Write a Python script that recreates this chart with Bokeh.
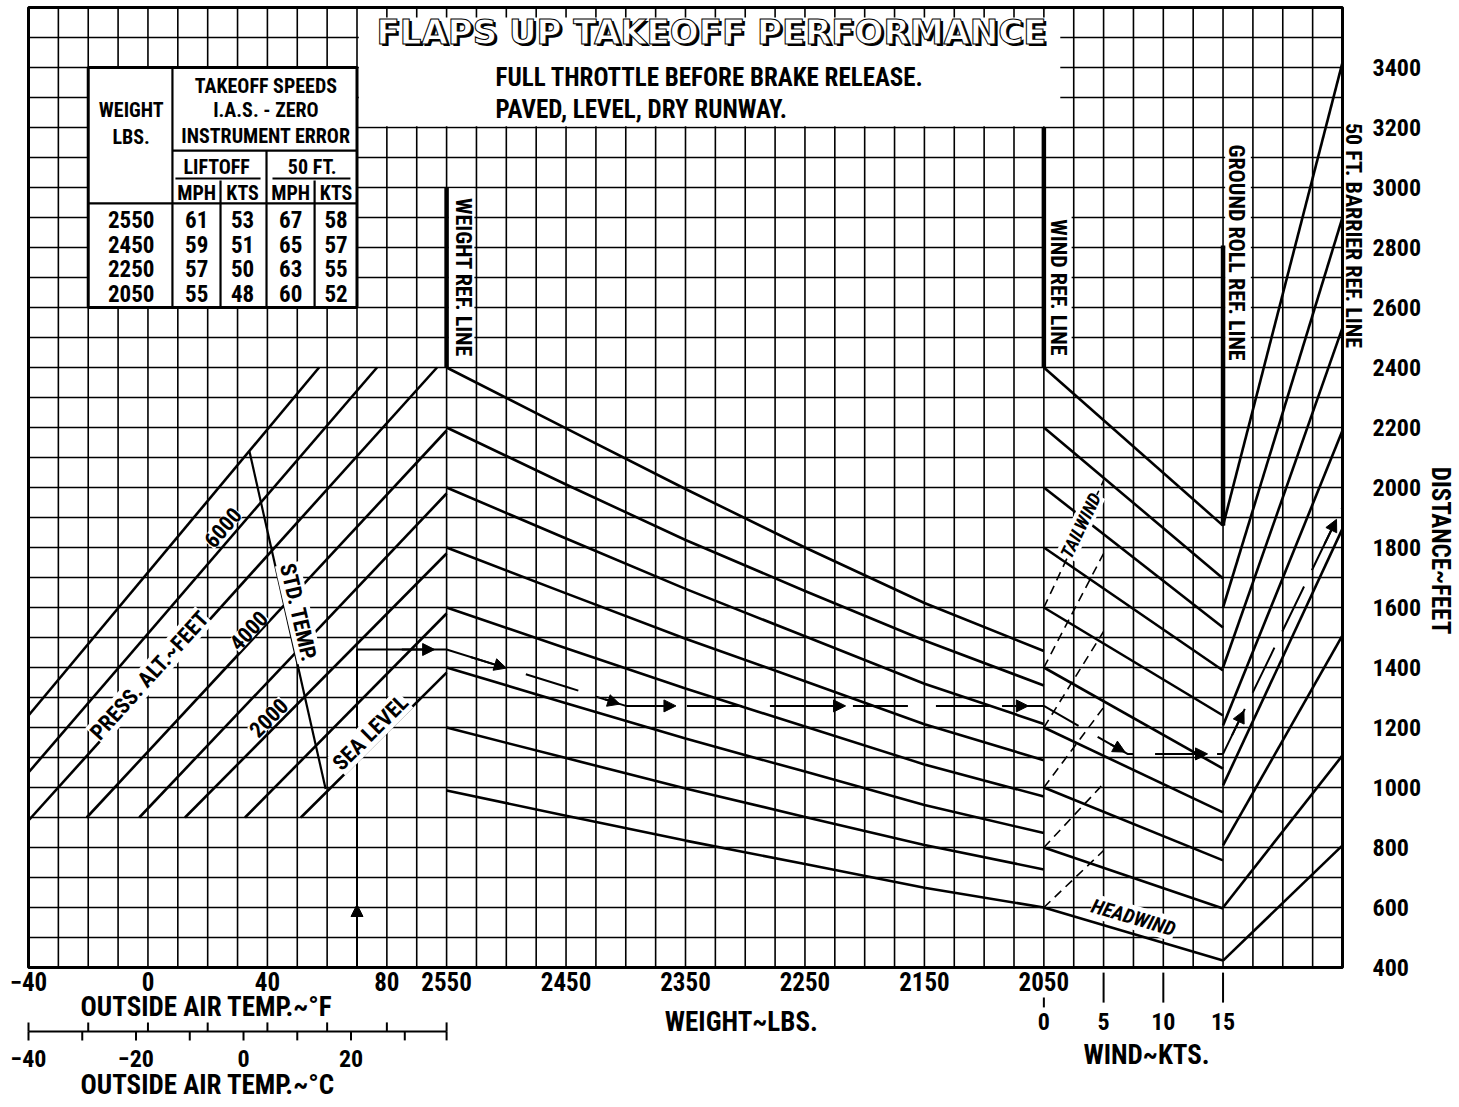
import numpy as np
from bokeh.plotting import figure
from bokeh.models import LinearAxis, FixedTicker, Arrow, NormalHead
from bokeh.core.properties import value
from bokeh.embed import file_html
from bokeh.resources import INLINE

FONT = "'Roboto Condensed', 'Noto Sans Condensed', 'Liberation Sans Narrow', 'Liberation Sans', sans-serif"
TFONT = "'DejaVu Sans', Verdana, sans-serif"

# ---------------- values ----------------
temp_f_ticks = [-40, 0, 40, 80]
temp_f_minor = [-40, -20, 0, 20, 40, 60, 80, 100]
temp_c_ticks = [-40, -30, -20, -10, 0, 10, 20, 30]
temp_c_labeled = [-40, -20, 0, 20]
weight_ticks = [2550, 2450, 2350, 2250, 2150, 2050]
wind_ticks = [0, 5, 10, 15]
distance_ticks = list(range(400, 3401, 200))
grid_u = list(range(-40, 401, 10))          # one grid column = 10 deg F
grid_ft = list(range(400, 3601, 100))       # one grid row = 100 ft

# pressure altitude lines (deg F, ft) start -> end
pa_names = ["SEA LEVEL", "1000", "2000", "3000", "4000", "5000", "6000", "7000"]
pa_t0 = [51.2, 32.5, 12.4, -2.9, -20.5, -40.0, -40.0, -40.0]
pa_d0 = [900, 900, 900, 900, 900, 890, 1050, 1240]
pa_t1 = [100.0, 100.0, 100.0, 100.0, 100.0, 96.8, 76.7, 57.3]
pa_d1 = [1383, 1580, 1780, 1980, 2190, 2400, 2400, 2400]

std_temp_t = [34.0, 59.5]
std_temp_d = [2120, 995]

# weight guide lines: distance at each weight
guide_weights = [2550, 2450, 2350, 2250, 2150, 2050]
weight_guides = [
    [2400, 2197, 1995, 1800, 1615, 1455],
    [2200, 2010, 1825, 1655, 1490, 1340],
    [2000, 1830, 1662, 1504, 1346, 1212],
    [1800, 1647, 1496, 1354, 1211, 1091],
    [1600, 1464, 1330, 1203, 1077, 970],
    [1400, 1281, 1163, 1053, 942, 848],
    [1200, 1098, 997, 902, 808, 727],
    [990, 906, 823, 745, 666, 600],
]

# wind: headwind guides 0 kt -> 15 kt, tailwind guides 0 kt -> 5 kt
head_d0 = [2400, 2200, 2000, 1800, 1600, 1400, 1200, 1000, 800, 600]
head_d15 = [1873, 1697, 1533, 1390, 1240, 1063, 917, 757, 597, 423]
tail_d0 = [600, 800, 1000, 1200, 1400, 1600]
tail_d5 = [790, 1013, 1267, 1520, 1780, 2023]

# ground roll -> 50 ft barrier guides
barrier_g = [423, 600, 807, 1007, 1207, 1400, 1600, 1873]
barrier_b = [807, 1107, 1507, 1863, 2190, 2533, 2900, 3417]

# worked example
ex_temp = 70
ex_pa_dist = 1460
ex_w_path_w = [2550, 2500, 2450, 2400]
ex_w_path_d = [1460, 1398, 1336, 1272]
ex_wind = 7
ex_ground = 1112
ex_barrier = 1935

# takeoff speed table
table_weights = [2550, 2450, 2250, 2050]
liftoff_mph = [61, 59, 57, 55]
liftoff_kts = [53, 51, 50, 48]
ft50_mph = [67, 65, 63, 60]
ft50_kts = [58, 57, 55, 52]


# ---------------- shared horizontal scale ----------------
def uw(w):
    return 100 + (2550 - np.asarray(w, float)) * 0.4


def uk(k):
    return 300 + np.asarray(k, float) * 4.0


U_LEFT, U_RIGHT, D_BOT, D_TOP = -40, 400, 400, 3600
PX_U = 1314 / 440.0      # pixels per horizontal unit
PX_FT = 0.3              # pixels per foot
FW, FH = 1364, 1100
x0r = U_LEFT - 28 / PX_U
y1r = D_TOP + 7 / PX_FT

p = figure(frame_width=FW, frame_height=FH,
           x_range=(x0r, x0r + FW / PX_U), y_range=(y1r - FH / PX_FT, y1r),
           x_axis_location=None, y_axis_location=None, output_backend="svg",
           toolbar_location=None, min_border_left=0, min_border_top=0,
           min_border_right=0, min_border_bottom=0, outline_line_color=None)
p.xgrid.visible = False
p.ygrid.visible = False

# grid
p.segment(x0=grid_u, y0=[D_BOT] * len(grid_u), x1=grid_u, y1=[D_TOP] * len(grid_u),
          line_color="black", line_width=1.6)
p.segment(x0=[U_LEFT] * len(grid_ft), y0=grid_ft, x1=[U_RIGHT] * len(grid_ft), y1=grid_ft,
          line_color="black", line_width=1.6)

# white panels that hide the grid
p.quad(left=[70.6, 100.7, 300.7, 360.7], right=[305.5, 109.3, 309.3, 369.3],
       bottom=[3204, 2403, 2412, 2425], top=[3567, 2997, 2930, 3160],
       fill_color="white", line_color=None)

# reference lines (thick)
p.segment(x0=[100, 300, 360], y0=[2400, 2400, 1873], x1=[100, 300, 360], y1=[3000, 3200, 2807],
          line_color="black", line_width=4.5)

LW = 2.6
p.segment(x0=pa_t0, y0=pa_d0, x1=pa_t1, y1=pa_d1, line_color="black", line_width=LW)
p.line(std_temp_t, std_temp_d, line_color="black", line_width=2.2)
p.multi_line(xs=[list(uw(guide_weights)) for _ in weight_guides], ys=weight_guides,
             line_color="black", line_width=LW)
p.segment(x0=[uk(0)] * len(head_d0), y0=head_d0, x1=[uk(15)] * len(head_d0), y1=head_d15,
          line_color="black", line_width=LW)
p.segment(x0=[uk(0)] * len(tail_d0), y0=tail_d0, x1=[uk(5)] * len(tail_d0), y1=tail_d5,
          line_color="black", line_width=1.6, line_dash="9 6")
p.segment(x0=[uk(15)] * len(barrier_g), y0=barrier_g, x1=[U_RIGHT] * len(barrier_g), y1=barrier_b,
          line_color="black", line_width=LW)

# ---------------- worked example ----------------
p.line([ex_temp, ex_temp, 100], [D_BOT, ex_pa_dist, ex_pa_dist], line_color="black", line_width=2)
wx = list(uw(ex_w_path_w)) + [uw(2050)]
wy = ex_w_path_d + [ex_w_path_d[-1]]
p.line(wx, wy, line_color="black", line_width=2, line_dash="55 28")
p.line([uk(0), uk(ex_wind), uk(15)], [ex_w_path_d[-1], ex_ground, ex_ground],
       line_color="black", line_width=2, line_dash="40 22")
p.line([uk(15), U_RIGHT], [ex_ground, ex_barrier], line_color="black", line_width=2,
       line_dash="50 18")


def arrow(xa, ya, xb, yb):
    p.add_layout(Arrow(end=NormalHead(size=12, fill_color="black", line_color="black"),
                       x_start=xa, y_start=ya, x_end=xb, y_end=yb,
                       line_color="black", line_width=2))


arrow(ex_temp, 500, ex_temp, 610)
arrow(85, ex_pa_dist, 96, ex_pa_dist)
arrow(uw(2530), 1435, uw(2500), 1398)
arrow(uw(2425), 1303, uw(2405), 1278)
arrow(uw(2380), 1272, uw(2358), 1272)
arrow(uw(2240), 1272, uw(2216), 1272)
arrow(uw(2085), 1272, uw(2063), 1272)
arrow(uk(5.6), 1144, uk(6.8), 1118)
arrow(uk(12), ex_ground, uk(13.7), ex_ground)
sl = (ex_barrier - ex_ground) / (U_RIGHT - uk(15))
arrow(363, ex_ground + 3 * sl, 367, ex_ground + 7 * sl)
arrow(394, ex_ground + 34 * sl, 398, ex_ground + 38 * sl)


# ---------------- texts ----------------
def txt(x, y, t, size, angle=0.0, align="center", font=FONT, style="bold", bg=None):
    kw = {}
    if bg:
        kw["background_fill_color"] = bg
    p.text(x=x, y=y, text=t, angle=angle, text_align=align, text_baseline="middle",
           text_font=value(font), text_font_style=style, text_font_size=size,
           text_color="black", **kw)


txt([25.0, 0.5, 33.7, 40.4, 74.5], [1867, 1373, 1523, 1233, 1183],
    ["6000", "PRESS. ALT.~FEET", "4000", "2000", "SEA LEVEL"], "22px",
    angle=list(np.radians([49.4, 47.9, 47.1, 45.1, 44.9])), bg="white")
txt([50.4], [1583], ["STD. TEMP."], "22px", angle=np.radians(-77), bg="white")
txt([330], [567], ["HEADWIND"], "20px", angle=np.radians(-16.4), style="bold italic", bg="white")
txt([312.3], [1873], ["TAILWIND"], "18px", angle=np.radians(64), style="bold italic", bg="white")
txt([105.7, 304.9, 364.6, 403.7], [2700, 2667, 2783, 2840],
    ["WEIGHT REF. LINE", "WIND REF. LINE", "GROUND ROLL REF. LINE", "50 FT. BARRIER REF. LINE"],
    "22px", angle=-np.pi / 2)

# title block
p.text(x=[188.7], y=[3520], text=["FLAPS UP TAKEOFF PERFORMANCE"], text_align="center",
       text_baseline="middle", text_font=value(TFONT), text_font_style="bold",
       text_font_size="34px", text_color="black", x_offset=2.5, y_offset=2.5)
p.text(x=[188.7], y=[3520], text=["FLAPS UP TAKEOFF PERFORMANCE"], text_align="center",
       text_baseline="middle", text_font=value(TFONT), text_font_style="bold",
       text_font_size="34px", text_color="white", text_outline_color="black")
txt([116.4, 116.4], [3367, 3260],
    ["FULL THROTTLE BEFORE BRAKE RELEASE.", "PAVED, LEVEL, DRY RUNWAY."], "25px", align="left")

# speed table
p.quad(left=[-20], right=[70], bottom=[2600], top=[3400], fill_color="white",
       line_color="black", line_width=3)
p.segment(x0=[8.2, 8.2, 39.7, 9.2, 41.7, 24.3, 55.8, -20],
          y0=[2600, 3123, 2600, 3030, 3030, 2600, 2600, 2947],
          x1=[8.2, 70, 39.7, 37.7, 67.8, 24.3, 55.8, 70],
          y1=[3400, 3123, 3123, 3030, 3030, 3023, 3023, 2947],
          line_color="black", line_width=2.2)
txt([-5.6, -5.6, 39.5, 39.5, 39.5, 23, 55, 16.3, 31.7, 47.8, 63.0],
    [3257, 3167, 3340, 3257, 3173, 3067, 3067, 2983, 2983, 2983, 2983],
    ["WEIGHT", "LBS.", "TAKEOFF SPEEDS", "I.A.S. - ZERO", "INSTRUMENT ERROR",
     "LIFTOFF", "50 FT.", "MPH", "KTS", "MPH", "KTS"], "20px")
row_y = [2893 - 82 * i for i in range(len(table_weights))]
for col_x, col in zip([-5.6, 16.3, 31.7, 47.8, 63.0],
                      [table_weights, liftoff_mph, liftoff_kts, ft50_mph, ft50_kts]):
    txt([col_x] * len(col), row_y, [str(v) for v in col], "23px")

# ---------------- bottom scales ----------------
def minus(v):
    return str(v).replace("-", "\u2212")


bx = [float(t) for t in temp_f_ticks] + [float(uw(w)) for w in weight_ticks]
bt = [minus(t) for t in temp_f_ticks] + [str(w) for w in weight_ticks]
txt(bx, [355] * len(bx), bt, "25px")

# wind scale
wk = [float(uk(k)) for k in wind_ticks]
p.segment(x0=wk[1:], y0=[383] * 3, x1=wk[1:], y1=[283] * 3, line_color="black", line_width=2)
p.segment(x0=wk[:1], y0=[300], x1=wk[:1], y1=[267], line_color="black", line_width=2)
txt(wk, [220] * len(wk), [str(k) for k in wind_ticks], "24px")

# celsius scale (ticks below the line every 10 C, above every 20 F)
c_u = [c * 9 / 5 + 32 for c in temp_c_ticks]
p.segment(x0=[-40], y0=[187], x1=[100], y1=[187], line_color="black", line_width=2)
p.segment(x0=c_u + [100], y0=[187] * (len(c_u) + 1), x1=c_u + [100], y1=[157] * (len(c_u) + 1),
          line_color="black", line_width=2)
p.segment(x0=temp_f_minor, y0=[187] * len(temp_f_minor), x1=temp_f_minor,
          y1=[217] * len(temp_f_minor), line_color="black", line_width=2)
cl = [c for c in temp_c_ticks if c in temp_c_labeled]
txt([c * 9 / 5 + 32 for c in cl], [97] * len(cl), [minus(c) for c in cl], "24px")

# scale titles
txt([19.6, 198.7, 334.4, 20.0], [267, 220, 110, 7],
    ["OUTSIDE AIR TEMP.~°F", "WEIGHT~LBS.", "WIND~KTS.", "OUTSIDE AIR TEMP.~°C"], "27px")

# border of the grid
p.quad(left=[U_LEFT], right=[U_RIGHT], bottom=[D_BOT], top=[D_TOP], fill_color=None,
       line_color="black", line_width=3)

# ---------------- distance axis ----------------
yax = LinearAxis(ticker=FixedTicker(ticks=distance_ticks), axis_label="DISTANCE~FEET")
yax.axis_line_color = None
yax.major_tick_line_color = None
yax.minor_tick_line_color = None
yax.major_tick_out = 0
yax.major_tick_in = 0
yax.major_label_standoff = 8
yax.major_label_text_font = FONT
yax.major_label_text_font_style = "bold"
yax.major_label_text_font_size = "24px"
yax.major_label_text_color = "black"
yax.axis_label_text_font = FONT
yax.axis_label_text_font_style = "bold"
yax.axis_label_text_font_size = "25px"
yax.axis_label_text_color = "black"
yax.axis_label_standoff = 2
p.add_layout(yax, "right")

open("out.html", "w").write(file_html(p, INLINE, title="Flaps up takeoff performance"))
